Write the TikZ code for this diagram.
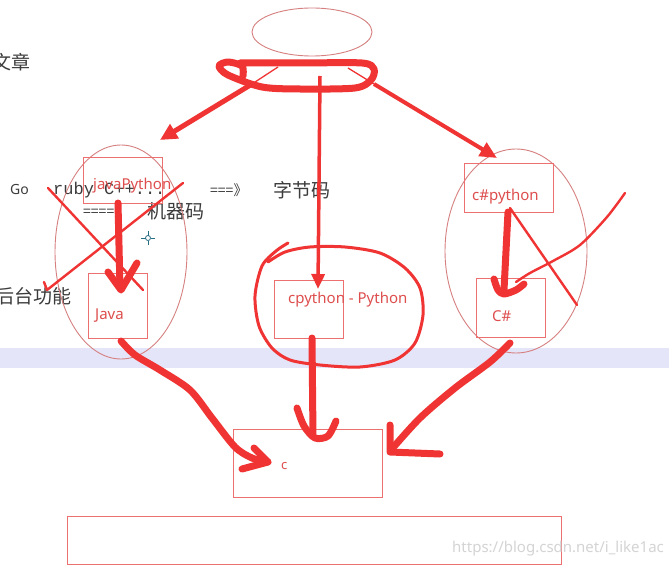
\documentclass[tikz,border=0pt]{standalone}
\usepackage{fontspec}
\setmainfont{Noto Sans}
\newfontfamily\cjk{Noto Sans CJK SC}
\newfontfamily\mono{Liberation Mono}
\usetikzlibrary{arrows.meta}
\definecolor{hred}{RGB}{240,52,52}
\definecolor{bred}{RGB}{236,112,112}
\definecolor{ered}{RGB}{214,128,128}
\definecolor{tred}{RGB}{222,78,78}
\definecolor{bandc}{RGB}{229,229,249}
\definecolor{wm}{RGB}{212,212,212}
\definecolor{txt}{RGB}{60,60,60}
\definecolor{cur}{RGB}{40,110,130}
\tikzset{
 box/.style={draw=bred, line width=1pt, inner sep=0pt, outer sep=0pt},
 oval/.style={draw=ered, line width=0.9pt},
 hand/.style={draw=hred, line width=7pt, line cap=round, line join=round},
 pen/.style={draw=hred, line width=2.4pt, line cap=round, line join=round},
 lab/.style={text=tred, font=\fontsize{15}{15}\selectfont, inner sep=0pt, anchor=west},
 zh/.style={text=txt, font=\cjk\fontsize{19}{19}\selectfont, inner sep=0pt, anchor=west},
 plain/.style={text=txt, inner sep=0pt, anchor=west},
}
\begin{document}
\begin{tikzpicture}[x=1pt,y=-1pt]
\useasboundingbox (0,0) rectangle (669,567);
\fill[white] (0,0) rectangle (669,567);
\fill[bandc] (0,348) rectangle (669,368);

% black text
\node[zh] (t1) at (-8,62) {文章};
\node[plain, font=\fontsize{14}{14}\selectfont] (t2) at (10,190) {Go};
\node[plain, font=\mono\fontsize{17}{17}\selectfont] (t3) at (53,190) {ruby C++...};
\node[plain, font=\cjk\fontsize{14}{14}\selectfont] (t4) at (210,190) {===》};
\node[zh] (t5) at (273,190) {字节码};
\node[plain, font=\cjk\fontsize{14}{14}\selectfont] (t6) at (83,211) {====》};
\node[zh] (t7) at (147,211) {机器码};
\node[zh] (t8) at (-5,296) {后台功能};

% ellipses
\draw[oval] (312,32) ellipse [x radius=60pt, y radius=24pt];
\draw[oval] (121,252) ellipse [x radius=66pt, y radius=107pt];
\draw[oval] (516,251) ellipse [x radius=71pt, y radius=102pt];

% boxes
\node[box, minimum width=79pt, minimum height=46pt] (jp) at (122.5,180) {};
\node[box, minimum width=59pt, minimum height=65pt] (ja) at (117.5,305.5) {};
\node[box, minimum width=69pt, minimum height=58pt] (cp) at (308.5,309) {};
\node[box, minimum width=89pt, minimum height=49pt] (cs) at (508.5,187.5) {};
\node[box, minimum width=69pt, minimum height=59pt] (csh) at (510.5,307.5) {};
\node[box, minimum width=149pt, minimum height=68pt] (c) at (307.5,463) {};
\node[box, minimum width=494pt, minimum height=48pt] (bot) at (314,540) {};

% labels
\node[lab] (l1) at (93,186) {javaPython};
\node[lab] (l2) at (95,316) {Java};
\node[lab] (l3) at (288,300) {cpython - Python};
\node[lab] (l4) at (472,197) {c\#python};
\node[lab] (l5) at (492,316) {C\#};
\node[lab, font=\fontsize{13}{13}\selectfont] (l6) at (281,466) {c};
\node[text=wm, font=\fontsize{15}{15}\selectfont, inner sep=0pt, anchor=west] (w) at (452,549) {https://blog.csdn.net/i\_like1ac};

% cursor
\coordinate (cu) at (148,238);
\draw[cur, line width=0.8pt] (cu) circle [radius=2.5pt];
\draw[cur, line width=0.8pt] ([xshift=-7pt]cu) -- ([xshift=-2.5pt]cu) ([xshift=2.5pt]cu) -- ([xshift=7pt]cu)
  ([yshift=-7pt]cu) -- ([yshift=-2.5pt]cu) ([yshift=2.5pt]cu) -- ([yshift=7pt]cu);

% top loop and arrows
\coordinate (aL0) at (278,67);
\coordinate (aL1) at (252,84);
\coordinate (aL2) at (160,140);
\coordinate (aM0) at (320,76);
\coordinate (aM1) at (318,289);
\coordinate (aR0) at (348,68);
\coordinate (aR1) at (374,84);
\coordinate (aR2) at (497,158);
\draw[hred, line width=1.3pt] (aL0) -- (aL1);
\draw[hred, line width=1.3pt] (aR0) -- (aR1);
\draw[hred, line width=3.5pt, -{Triangle[length=15pt,width=13pt]}] (aM0) -- (aM1);
\draw[hred, line width=5pt, -{Triangle[length=17pt,width=16pt]}] (aL1) -- (aL2);
\draw[hred, line width=4pt, -{Triangle[length=17pt,width=15pt]}] (aR1) -- (aR2);
\draw[hand] plot[smooth] coordinates {(243,76) (242,66) (228,62) (219,66) (228,75) (262,87) (300,89) (355,88) (371,80) (374,69) (362,63) (300,63) (240,63)};

% crosses
\draw[pen] (48,188) -- (143,290);
\draw[pen] (183,183) -- (47,290) -- (44,282);
\draw[pen] (510,208) -- (577,305);
\draw[pen] plot[smooth] coordinates {(625,193) (607,217) (580,245) (553,261) (530,273) (516,282)};

% circle around cpython
\draw[hred, line width=3pt, line cap=round] plot[smooth] coordinates {(288,243) (276,251) (262,266) (255,296) (259,326) (272,348) (290,360) (320,365) (360,367) (395,360) (415,343) (423,315) (420,288) (405,268) (380,253) (345,247) (310,247) (285,252) (268,262)};

% hand-drawn arrows
\draw[hand] (jp.south -| 118,0) -- (120,288);
\draw[hand] (108,272) -- (121,290) -- (137,263);
\draw[hand] (cs.south -| 508,0) -- (504,290);
\draw[hand] plot[smooth] coordinates {(494,279) (498,290) (504,294) (516,290) (524,284)};
\draw[hand] (cp.south -| 312,0) -- (313,436);
\draw[hand] plot[smooth] coordinates {(297,408) (304,426) (315,438) (328,436) (336,421)};
\draw[hand] plot[smooth] coordinates {(121,341) (135,355) (160,370) (190,390) (212,418) (235,447) (252,458) (268,462)};
\draw[hand] (254,448) -- (268,462) -- (242,469);
\draw[hand] plot[smooth] coordinates {(510,343) (490,362) (455,388) (420,418) (391,450)};
\draw[hand] (390,425) -- (390,452) -- (440,454);
\end{tikzpicture}
\end{document}
